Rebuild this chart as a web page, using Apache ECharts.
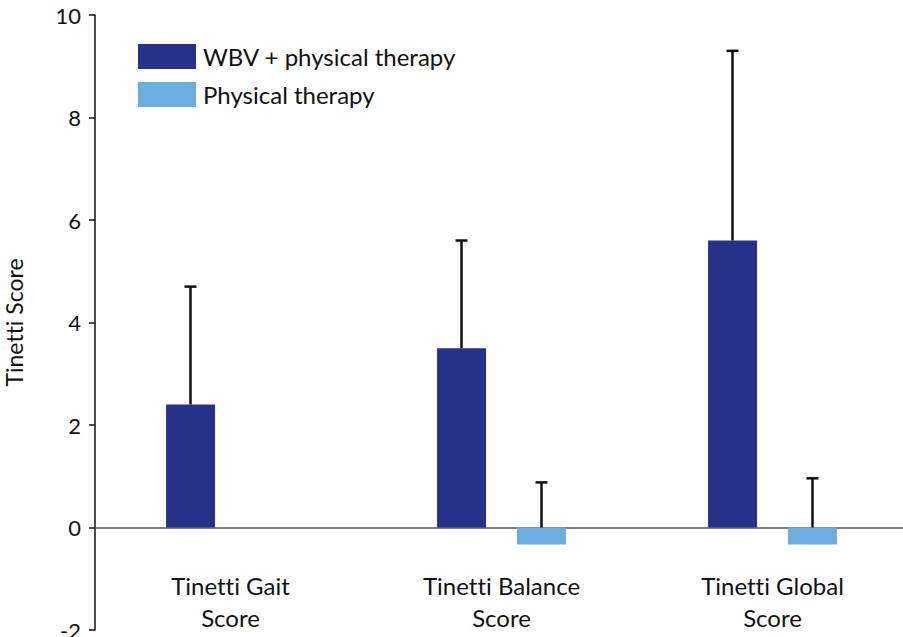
<!DOCTYPE html>
<html>
<head>
<meta charset="utf-8">
<script src="https://cdn.jsdelivr.net/npm/echarts@6/dist/echarts.min.js"></script>
<style>
  html, body { margin: 0; padding: 0; background: #ffffff; }
  #chart { width: 903px; height: 637px; }
  #chart svg text { font-variant-ligatures: none; font-feature-settings: "liga" 0; }
</style>
</head>
<body>
<div id="chart"></div>
<script>
// Tinetti score change by group, mean with SD whiskers
const categories = ['Tinetti Gait\nScore', 'Tinetti Balance\nScore', 'Tinetti Global\nScore'];
const seriesNames = ['WBV + physical therapy', 'Physical therapy'];
const wbvMean = [2.4, 3.5, 5.6];
const wbvSD = [2.3, 2.1, 3.7];
const ptMean = [null, -0.33, -0.33];
const ptSD = [null, 1.21, 1.29];
const yTicks = { min: -2, max: 10, interval: 2 };

const FONT = 'Lato';
const darkBlue = '#283189';
const lightBlue = '#6aaee0';
const barWidth = 49;
const barOffset = 40; // half the distance between the two bar centres in a group

function whiskerData(means, sds) {
  const out = [];
  means.forEach((m, i) => {
    if (m == null || sds[i] == null) return;
    out.push([i, Math.max(m, 0), m + sds[i]]);
  });
  return out;
}

function whiskerRenderer(offset) {
  return function (params, api) {
    const cat = api.value(0);
    const base = api.coord([cat, api.value(1)]);
    const top = api.coord([cat, api.value(2)]);
    const x = base[0] + offset;
    const style = { stroke: '#111111', lineWidth: 2.5 };
    return {
      type: 'group',
      children: [
        { type: 'line', shape: { x1: x, y1: base[1], x2: x, y2: top[1] }, style: style },
        { type: 'line', shape: { x1: x - 6, y1: top[1], x2: x + 6, y2: top[1] }, style: style }
      ]
    };
  };
}

const chart = echarts.init(document.getElementById('chart'), null, { renderer: 'svg' });
chart.setOption({
  animation: false,
  backgroundColor: '#ffffff',
  textStyle: { fontFamily: FONT },
  grid: { left: 95, top: 15, width: 813, bottom: 7, containLabel: false, outerBoundsMode: 'none' },
  legend: {
    orient: 'vertical',
    left: 133,
    top: 39,
    itemWidth: 58,
    itemHeight: 25,
    itemGap: 13,
    icon: 'rect',
    data: seriesNames,
    textStyle: { fontFamily: FONT, fontSize: 24, color: '#111111', padding: [0, 0, 0, 2] }
  },
  xAxis: {
    type: 'category',
    data: categories,
    axisLine: { onZero: true, lineStyle: { color: '#555555', width: 1.5 } },
    axisTick: { show: false },
    axisLabel: {
      fontFamily: FONT, fontSize: 24, color: '#111111',
      margin: -61, lineHeight: 32, align: 'center', verticalAlign: 'top', interval: 0
    }
  },
  yAxis: {
    type: 'value',
    min: yTicks.min,
    max: yTicks.max,
    interval: yTicks.interval,
    name: 'Tinetti Score',
    nameLocation: 'middle',
    nameGap: 70,
    nameTextStyle: { fontFamily: FONT, fontSize: 23, color: '#111111' },
    splitLine: { show: false },
    axisLine: { show: true, onZero: false, lineStyle: { color: '#111111', width: 1.5 } },
    axisTick: { show: true, length: 6, lineStyle: { color: '#111111', width: 1.5 } },
    axisLabel: { fontFamily: FONT, fontSize: 22, color: '#111111', margin: 14 }
  },
  series: [
    {
      name: seriesNames[0],
      type: 'bar',
      data: wbvMean,
      barWidth: barWidth,
      barGap: '63%',
      itemStyle: { color: darkBlue }
    },
    {
      name: seriesNames[1],
      type: 'bar',
      data: ptMean.map(v => (v == null ? '-' : v)),
      barWidth: barWidth,
      itemStyle: { color: lightBlue }
    },
    {
      type: 'custom',
      renderItem: whiskerRenderer(-barOffset),
      data: whiskerData(wbvMean, wbvSD),
      encode: { x: 0, y: [1, 2] },
      z: 5,
      silent: true
    },
    {
      type: 'custom',
      renderItem: whiskerRenderer(barOffset),
      data: whiskerData(ptMean, ptSD),
      encode: { x: 0, y: [1, 2] },
      z: 5,
      silent: true
    }
  ]
});
</script>
</body>
</html>
